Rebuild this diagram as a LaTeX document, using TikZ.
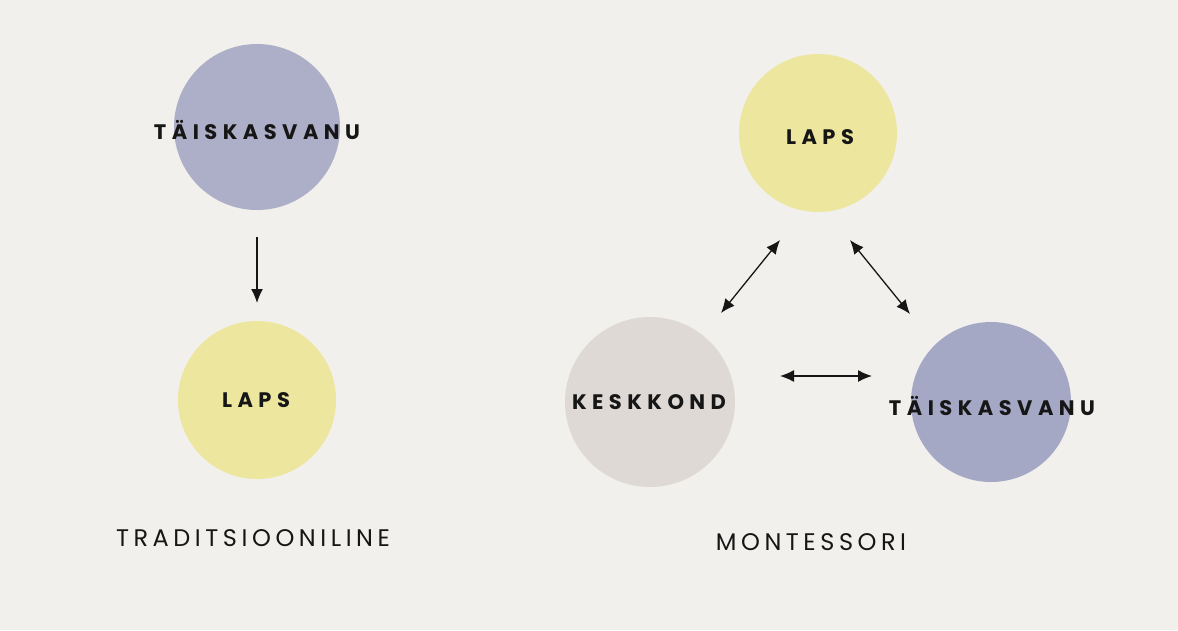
\documentclass[tikz,border=0pt]{standalone}
\usepackage{fontspec}
\usetikzlibrary{arrows.meta}
\newfontfamily\boldlab[LetterSpace=26]{Poppins Bold}
\newfontfamily\reglab[LetterSpace=19]{Poppins}
\definecolor{bg}{HTML}{F1F0EC}
\definecolor{adult}{HTML}{ADAEC8}
\definecolor{adultb}{HTML}{A5A8C5}
\definecolor{child}{HTML}{EDE69E}
\definecolor{env}{HTML}{DED9D5}
\definecolor{ink}{HTML}{161616}
\tikzset{
  blob/.style={circle, inner sep=0pt, text=ink, font=\boldlab\fontsize{21}{21}\selectfont},
  caption/.style={text=ink, font=\reglab\fontsize{24}{24}\selectfont},
  tip/.tip={Latex[length=14pt,width=12pt]},
  link/.style={draw=ink, line width=1.3pt, -tip},
  biglink/.style={draw=ink, line width=1.3pt, tip-tip}
}
\begin{document}
\begin{tikzpicture}[x=1pt,y=-1pt]
\fill[bg] (0,0) rectangle (1178,630);
\useasboundingbox (0,0) rectangle (1178,630);
% left diagram
\node[blob, fill=adult, minimum size=166pt] (t1) at (257,127) {};
\node[blob] (t1l) at (257,130) {TÄISKASVANU};
\node[blob, fill=child, minimum size=158pt] (l1) at (257,400) {};
\node[blob] (l1l) at (256,400) {LAPS};
\node[caption] (c1) at (253,538) {TRADITSIOONILINE};
\coordinate (a1s) at (257,237);
\coordinate (a1e) at (257,303);
\draw[link] (a1s) -- (a1e);
% right diagram
\node[blob, fill=child, minimum size=158pt] (l2) at (818,133) {};
\node[blob] (l2l) at (820,137) {LAPS};
\node[blob, fill=env, minimum size=170pt] (k2) at (650,402) {};
\node[blob] (k2l) at (649,402) {KESKKOND};
\node[blob, fill=adultb, minimum size=160pt] (t2) at (991,402) {};
\node[blob] (t2l) at (992,406) {TÄISKASVANU};
\node[caption] (c2) at (811,542) {MONTESSORI};
\coordinate (d1a) at (780,240);
\coordinate (d1b) at (721,313);
\coordinate (d2a) at (850,240);
\coordinate (d2b) at (910,314);
\coordinate (h1a) at (780,376);
\coordinate (h1b) at (872,376);
\draw[biglink] (d1a) -- (d1b);
\draw[biglink] (d2a) -- (d2b);
\draw[biglink] (h1a) -- (h1b);
\end{tikzpicture}
\end{document}
